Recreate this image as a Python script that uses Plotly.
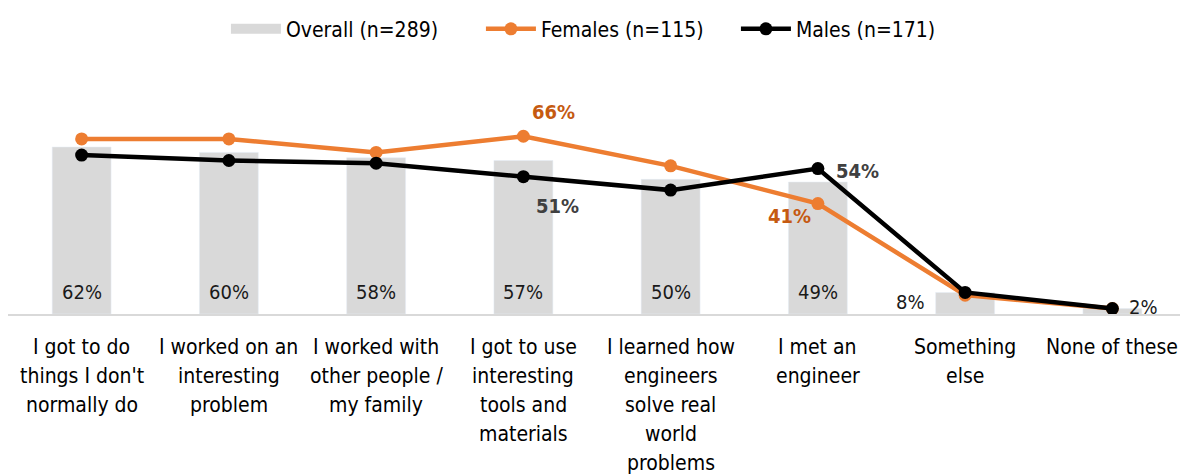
import plotly.graph_objects as go

categories = [
    "I got to do<br>things I don't<br>normally do",
    "I worked on an<br>interesting<br>problem",
    "I worked with<br>other people /<br>my family",
    "I got to use<br>interesting<br>tools and<br>materials",
    "I learned how<br>engineers<br>solve real<br>world<br>problems",
    "I met an<br>engineer",
    "Something<br>else",
    "None of these",
]
overall = [62, 60, 58, 57, 50, 49, 8, 2]
females = [65, 65, 60, 66, 55, 41, 7, 2]
males = [59, 57, 56, 51, 46, 54, 8, 2]

# labelled line points: (index, xshift, yshift)
fem_callouts = [(3, 30, 24), (5, -28, -12)]
male_callouts = [(3, 34, -29), (5, 40, -2)]

FONT = "DejaVu Sans Condensed, Liberation Sans Narrow, Roboto, sans-serif"
x = list(range(len(categories)))

fig = go.Figure()

fig.add_trace(go.Bar(
    x=x, y=overall, name="Overall (n=289)",
    marker_color="#D9D9D9", width=0.4, showlegend=False,
))
# wide grey swatch for the legend, like the Excel one
fig.add_trace(go.Scatter(
    x=[None], y=[None], name="Overall (n=289)", mode="lines",
    line=dict(color="#D9D9D9", width=14),
))

fig.add_trace(go.Scatter(
    x=x, y=females, name="Females (n=115)", mode="lines+markers",
    line=dict(color="#ED7D31", width=4.5), marker=dict(size=13, color="#ED7D31"),
))

fig.add_trace(go.Scatter(
    x=x, y=males, name="Males (n=171)", mode="lines+markers",
    line=dict(color="#000000", width=4.5), marker=dict(size=13, color="#000000"),
))

for i, dx, dy in fem_callouts:
    fig.add_annotation(x=i, y=females[i], text=f"<b>{females[i]}%</b>", showarrow=False,
                       xshift=dx, yshift=dy,
                       font=dict(size=20, color="#C55A11", family=FONT))
for i, dx, dy in male_callouts:
    fig.add_annotation(x=i, y=males[i], text=f"<b>{males[i]}%</b>", showarrow=False,
                       xshift=dx, yshift=dy,
                       font=dict(size=20, color="#404040", family=FONT))

# bar value labels: inside near the base, beside the bar for the small ones
for i, v in enumerate(overall):
    if v > 20:
        fig.add_annotation(x=i, y=0, text=f"{v}%", showarrow=False, yanchor="bottom",
                           yshift=8, font=dict(size=20, color="#1a1a1a", family=FONT))
fig.add_annotation(x=6, y=0, text=f"{overall[6]}%", showarrow=False, xanchor="right",
                   yanchor="bottom", xshift=-38, yshift=-2,
                   font=dict(size=20, color="#1a1a1a", family=FONT))
fig.add_annotation(x=7, y=0, text=f"{overall[7]}%", showarrow=False, xanchor="left",
                   yanchor="bottom", xshift=15, yshift=-7,
                   font=dict(size=20, color="#1a1a1a", family=FONT))

# category labels, one annotation per line for Excel-like line spacing
for i, cat in enumerate(categories):
    for k, line in enumerate(cat.split("<br>")):
        fig.add_annotation(x=i, y=0, text=line, showarrow=False, yanchor="middle",
                           yshift=-(33 + 29 * k),
                           font=dict(size=21, color="#000000", family=FONT))

fig.update_layout(
    width=1180, height=467,
    margin=dict(l=0, r=2, t=97, b=161),
    plot_bgcolor="white", paper_bgcolor="white",
    font=dict(family=FONT, size=20, color="#000000"),
    showlegend=True,
    legend=dict(orientation="h", x=0.185, xanchor="left", y=1.41, yanchor="middle",
                font=dict(size=21), itemwidth=50, entrywidth=190, traceorder="normal"),
)
fig.update_xaxes(
    tickmode="array", tickvals=x, showticklabels=False,
    range=[-0.5, len(categories) - 0.5],
    showline=True, linecolor="#D9D9D9", linewidth=2,
    ticks="", showgrid=False,
)
fig.update_yaxes(range=[0, 75], visible=False, showgrid=False)

fig.write_html("out.html")
